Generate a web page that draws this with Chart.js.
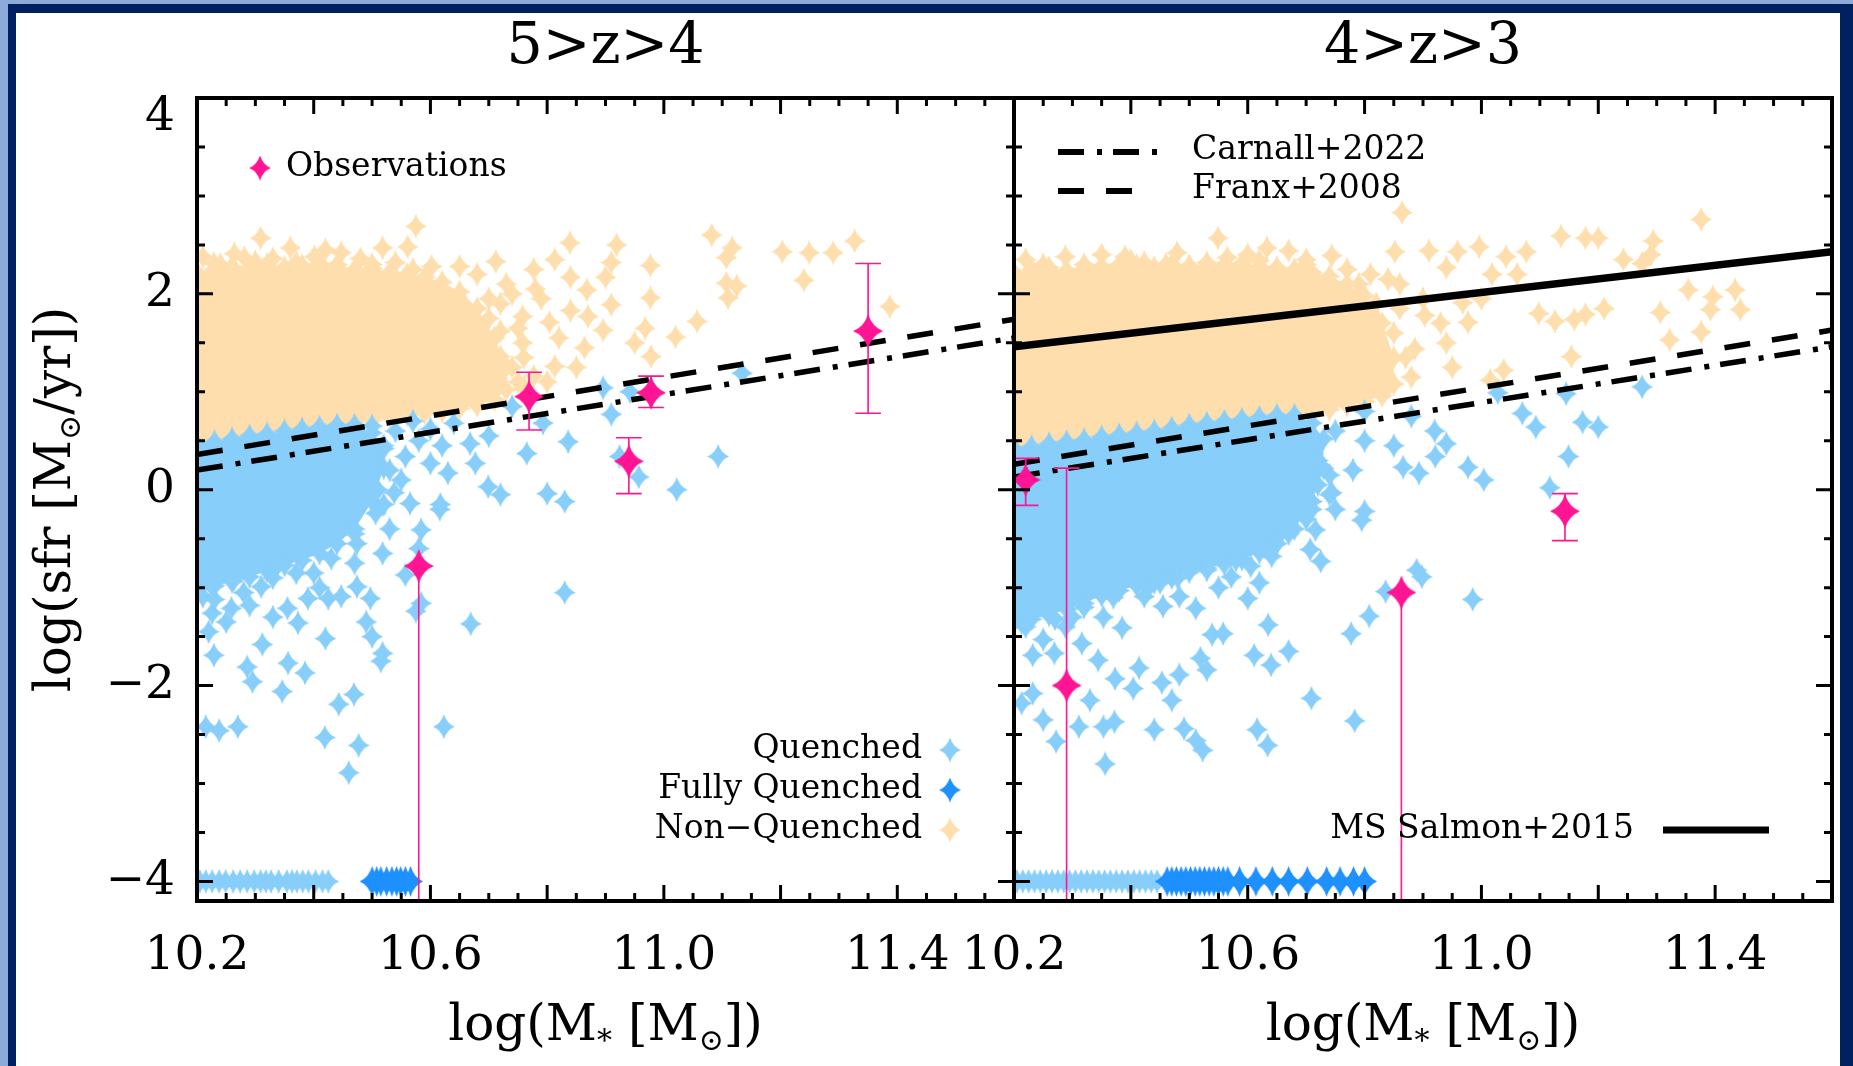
<!DOCTYPE html>
<html>
<head>
<meta charset="utf-8">
<title>Quenched galaxies 5>z>4 and 4>z>3</title>
<script src="https://cdn.jsdelivr.net/npm/chart.js@4.4.1/dist/chart.umd.min.js"></script>
<style>
  html, body { margin: 0; padding: 0; overflow: hidden; }
  body { width: 1853px; height: 1066px; position: relative; background: #8eaadb; }
  #navy { position: absolute; left: 8px; top: 4px; right: 0; bottom: 0; background: #002060; }
  #paper { position: absolute; left: 16px; top: 13px; right: 13px; bottom: 0; background: #fff; }
  canvas { position: absolute; left: 0; top: 0; }
</style>
</head>
<body>
<div id="navy"></div>
<div id="paper"></div>
<canvas id="left" width="1853" height="1066"></canvas>
<canvas id="right" width="1853" height="1066"></canvas>
<script>
// axes
const xMin = 10.2, xMax = 11.6;
const yMin = -4.2, yMax = 4.0;
const xTickLabels = [10.2, 10.6, 11.0, 11.4];
const yTickLabels = [-4, -2, 0, 2, 4];

// ---------- 5 > z > 4 ----------
// edge of the dense non-quenched cloud (upper and lower side)
const nqTopXL = [10.2, 10.23, 10.26, 10.29, 10.32, 10.35, 10.38, 10.41, 10.44, 10.47,
  10.5, 10.53, 10.56, 10.59, 10.62, 10.65, 10.68, 10.71, 10.73];
const nqTopYL = [2.22, 2.25, 2.28, 2.26, 2.30, 2.27, 2.29, 2.31, 2.27, 2.25,
  2.26, 2.22, 2.20, 2.17, 2.12, 2.02, 1.85, 1.55, 1.25];
const nqBotXL = [10.2, 10.23, 10.26, 10.29, 10.32, 10.35, 10.38, 10.41, 10.44, 10.47,
  10.5, 10.53, 10.56, 10.59, 10.62, 10.65, 10.68, 10.71, 10.73];
const nqBotYL = [0.42, 0.45, 0.48, 0.51, 0.54, 0.57, 0.60, 0.63, 0.66, 0.69,
  0.71, 0.74, 0.76, 0.78, 0.80, 0.83, 0.86, 0.92, 1.02];
// single non-quenched galaxies
const nqXL = [10.229, 10.309, 10.281, 10.264, 10.401, 10.447, 10.518, 10.561, 10.575, 10.602,
  10.712, 10.777, 10.813, 10.839, 10.919, 10.91, 10.977, 11.082, 11.117, 11.107,
  11.203, 11.249, 11.29, 11.327, 11.24, 11.107, 11.125, 11.11, 11.387, 10.977,
  10.91, 11.057, 11.02, 10.968, 10.95, 10.896, 10.978, 10.864, 10.813, 10.777,
  10.84, 10.868, 10.84, 10.758, 10.804, 10.758, 10.72, 10.87, 10.9, 10.62,
  10.66, 10.70, 10.73, 10.68, 10.65, 10.72, 10.74, 10.70, 10.76, 10.68,
  10.21, 10.33, 10.36, 10.42, 10.48, 10.54, 10.79, 10.63, 10.66, 10.70,
  10.24, 10.30, 10.37, 10.44, 10.50, 10.57, 10.72, 10.75, 10.76, 10.75,
  10.77, 10.78, 10.82, 10.85, 10.80, 10.74];
const nqYL = [2.31, 2.57, 2.37, 2.41, 2.38, 2.42, 2.47, 2.48, 2.69, 2.28,
  2.33, 2.25, 2.35, 2.52, 2.50, 2.32, 2.29, 2.60, 2.47, 2.37,
  2.43, 2.42, 2.42, 2.54, 2.14, 2.11, 2.08, 1.96, 1.87, 1.96,
  1.89, 1.72, 1.56, 1.65, 1.50, 1.63, 1.36, 1.45, 1.26, 1.16,
  2.17, 2.04, 1.83, 1.77, 1.71, 1.50, 1.36, 1.77, 2.17, 2.05,
  1.88, 1.95, 2.10, 2.20, 2.28, 1.62, 1.25, 1.12, 1.05, 0.98,
  2.38, 2.36, 2.47, 2.45, 2.36, 2.32, 1.95, 1.20, 1.45, 1.75,
  2.30, 2.33, 2.32, 2.30, 2.30, 2.25, 1.90, 1.65, 1.35, 1.10,
  0.98, 2.05, 1.55, 1.25, 1.10, 2.00];
// edge of the dense quenched cloud
const qTopXL = [10.2, 10.23, 10.26, 10.29, 10.32, 10.35, 10.38, 10.41, 10.44, 10.47, 10.5, 10.52];
const qTopYL = [0.46, 0.49, 0.52, 0.55, 0.57, 0.60, 0.62, 0.64, 0.66, 0.66, 0.58, 0.42];
const qBotXL = [10.2, 10.23, 10.26, 10.29, 10.32, 10.35, 10.38, 10.41, 10.44, 10.47, 10.5, 10.52];
const qBotYL = [-1.02, -0.98, -0.94, -0.89, -0.83, -0.77, -0.72, -0.65, -0.55, -0.40, -0.12, 0.22];
// single quenched galaxies
const qXL = [10.896, 10.942, 10.91, 10.836, 10.765, 10.793, 10.74, 11.093, 10.957, 11.022,
  10.924, 10.699, 10.72, 10.8, 10.83, 10.677, 10.668, 10.64, 10.6, 10.557,
  10.63, 10.616, 11.134, 10.70, 10.58, 10.584, 10.617, 10.83, 10.669, 10.584,
  10.575, 10.623, 10.50, 10.518, 10.515, 10.42, 10.312, 10.229, 10.286, 10.295,
  10.356, 10.385, 10.346, 10.469, 10.443, 10.215, 10.238, 10.27, 10.419, 10.477,
  10.46, 10.373, 10.355, 10.39, 10.425, 10.447, 10.497, 10.474, 10.518, 10.557,
  10.565, 10.538, 10.506, 10.226, 10.259, 10.29, 10.21, 10.337, 10.40, 10.447,
  10.474, 10.263, 10.226, 10.31, 10.22, 10.25, 10.33, 10.47, 10.53, 10.55,
  10.58, 10.49, 10.41, 10.52, 10.53, 10.51, 10.52, 10.50, 10.54, 10.57,
  10.60, 10.62, 10.23, 10.28, 10.33, 10.37, 10.43, 10.47];
const qYL = [1.04, 1.00, 0.77, 0.49, 0.37, 0.68, 0.85, 0.34, 0.13, 0.00,
  0.34, 0.03, -0.05, -0.04, -0.12, 0.27, 0.47, 0.68, 0.27, 0.34,
  0.17, -0.20, 1.19, 0.55, 0.50, -0.41, -0.15, -1.05, -1.37, -1.16,
  -1.24, -2.42, -1.50, -1.67, -1.75, -1.52, -1.58, -1.69, -1.81, -1.96,
  -1.77, -1.87, -2.06, -2.09, -2.19, -2.42, -2.46, -2.42, -2.53, -2.61,
  -2.89, -1.36, -1.21, -1.11, -1.11, -1.09, -1.11, -0.99, -0.65, -0.87,
  -0.14, -0.03, -0.24, -1.26, -1.21, -1.18, -1.09, -0.78, -0.85, -0.41,
  -0.55, -0.92, -0.99, -0.99, -1.45, -1.35, -1.30, -0.75, -0.40, 0.10,
  -0.60, -1.35, -1.00, 0.45, 0.20, 0.00, -0.15, 0.65, 0.60, 0.70,
  0.62, 0.45, -1.12, -1.05, -0.90, -0.85, -0.70, -0.45];
// galaxies with no star formation, shown at log(sfr) = -4
const qRowXL = [10.205, 10.215, 10.226, 10.238, 10.249, 10.262, 10.274, 10.286, 10.298, 10.309,
  10.318, 10.327, 10.34, 10.354, 10.363, 10.371, 10.381, 10.391, 10.403, 10.415, 10.425];
const fqRowXL = [10.50, 10.508, 10.515, 10.525, 10.534, 10.542, 10.549, 10.557, 10.566];
// observations with error bars
const obsXL = [10.769, 10.978, 10.94, 11.35, 10.58];
const obsYL = [0.95, 0.99, 0.29, 1.62, -0.78];
const obsHiL = [1.20, 1.16, 0.53, 2.31, -0.78];
const obsLoL = [0.61, 0.84, -0.04, 0.78, -4.2];
// quenching thresholds
const franxXL = [10.2, 11.6], franxYL = [0.36, 1.74];
const carnallXL = [10.2, 11.6], carnallYL = [0.20, 1.55];

// ---------- 4 > z > 3 ----------
const nqTopXR = [10.2, 10.23, 10.26, 10.29, 10.32, 10.35, 10.38, 10.41, 10.44, 10.47,
  10.5, 10.53, 10.56, 10.59, 10.62, 10.65, 10.68, 10.71, 10.74, 10.77, 10.8, 10.83, 10.85];
const nqTopYR = [2.22, 2.25, 2.27, 2.24, 2.26, 2.28, 2.30, 2.29, 2.27, 2.30,
  2.29, 2.28, 2.30, 2.31, 2.28, 2.27, 2.25, 2.22, 2.18, 2.10, 1.98, 1.70, 1.35];
const nqBotXR = [10.2, 10.23, 10.26, 10.29, 10.32, 10.35, 10.38, 10.41, 10.44, 10.47,
  10.5, 10.53, 10.56, 10.59, 10.62, 10.65, 10.68, 10.71, 10.74, 10.77, 10.8, 10.83, 10.85];
const nqBotYR = [0.37, 0.40, 0.43, 0.45, 0.48, 0.50, 0.53, 0.55, 0.57, 0.60,
  0.62, 0.64, 0.66, 0.68, 0.71, 0.73, 0.76, 0.79, 0.82, 0.86, 0.90, 0.96, 1.08];
const nqXR = [10.864, 11.376, 10.549, 10.479, 10.565, 10.423, 10.288, 10.633, 10.67, 10.744,
  10.852, 10.91, 10.959, 10.996, 11.042, 11.077, 11.136, 11.178, 11.2, 11.294,
  11.29, 11.243, 11.354, 11.396, 11.434, 11.443, 11.392, 11.306, 11.21, 11.178,
  11.159, 11.126, 11.098, 11.322, 11.154, 11.038, 11.015, 10.968, 10.977, 10.94,
  11.061, 11.018, 10.903, 10.886, 10.828, 10.94, 11.275, 10.22, 10.35, 10.7,
  10.82, 10.85, 10.86, 10.88, 10.9, 10.93, 10.84, 11.0, 10.95, 10.81,
  10.6, 10.39, 11.376, 10.82, 10.81, 10.83, 10.80, 10.79, 10.77, 10.25,
  10.32, 10.40, 10.46, 10.53, 10.62, 10.70, 10.86, 10.84, 10.87];
const nqYR = [2.83, 2.76, 2.57, 2.42, 2.37, 2.32, 2.38, 2.47, 2.44, 2.39,
  2.43, 2.44, 2.43, 2.48, 2.38, 2.43, 2.59, 2.57, 2.57, 2.54,
  2.40, 2.35, 2.04, 1.97, 2.04, 1.84, 1.84, 1.81, 1.85, 1.79,
  1.74, 1.72, 1.80, 1.53, 1.36, 1.22, 1.12, 1.91, 1.71, 1.50,
  2.20, 2.20, 1.78, 1.44, 1.27, 2.27, 2.31, 2.35, 2.40, 2.35,
  1.90, 1.60, 2.10, 1.15, 1.95, 1.70, 1.05, 1.95, 1.25, 2.20,
  2.40, 2.38, 1.61, 1.75, 1.45, 1.15, 0.98, 2.10, 2.25, 2.30,
  2.30, 2.34, 2.30, 2.32, 2.34, 2.30, 1.85, 2.15, 1.35];
const qTopXR = [10.2, 10.23, 10.26, 10.29, 10.32, 10.35, 10.38, 10.41, 10.44, 10.47,
  10.5, 10.53, 10.56, 10.59, 10.62, 10.65, 10.68, 10.71, 10.73];
const qTopYR = [0.42, 0.44, 0.47, 0.49, 0.51, 0.54, 0.56, 0.58, 0.60, 0.63,
  0.66, 0.68, 0.70, 0.72, 0.74, 0.76, 0.76, 0.68, 0.52];
const qBotXR = [10.2, 10.23, 10.26, 10.29, 10.32, 10.35, 10.38, 10.41, 10.44, 10.47,
  10.5, 10.53, 10.56, 10.59, 10.62, 10.65, 10.68, 10.71, 10.73];
const qBotYR = [-1.35, -1.32, -1.28, -1.22, -1.16, -1.08, -1.03, -0.98, -0.95, -0.90,
  -0.84, -0.80, -0.76, -0.71, -0.64, -0.55, -0.40, -0.12, 0.22];
const qXR = [11.028, 11.145, 11.275, 11.07, 11.093, 11.173, 11.2, 11.149, 11.117, 10.977,
  11.004, 10.94, 10.921, 10.893, 10.866, 10.744, 10.88, 10.92, 10.85, 10.80,
  10.75, 10.80, 10.78, 10.72, 10.75, 10.80, 10.795, 10.74, 10.716, 10.725,
  10.707, 10.889, 10.898, 10.985, 10.836, 10.808, 10.777, 10.67, 10.64, 10.611,
  10.635, 10.60, 10.572, 10.709, 10.783, 10.616, 10.634, 10.523, 10.511, 10.491,
  10.44, 10.356, 10.272, 10.25, 10.311, 10.353, 10.372, 10.213, 10.232, 10.33,
  10.404, 10.453, 10.47, 10.483, 10.53, 10.519, 10.373, 10.414, 10.344, 10.316,
  10.269, 10.232, 10.385, 10.455, 10.483, 10.511, 10.539, 10.558, 10.423, 10.353,
  10.213, 10.25, 10.288, 10.605, 10.641, 10.66, 10.698, 10.45, 10.3, 10.55,
  10.62, 10.71, 10.72, 10.70, 10.68, 10.22, 10.27, 10.32, 10.37, 10.43,
  10.48, 10.53, 10.58, 10.63, 10.67, 10.74, 10.71];
const qYR = [0.99, 0.98, 1.05, 0.78, 0.64, 0.69, 0.64, 0.34, 0.02, 0.23,
  0.10, 0.47, 0.34, 0.17, 0.23, -0.03, 0.75, 0.60, 0.45, 0.80,
  0.60, 0.50, 0.20, 0.30, -0.20, -0.22, -0.31, -0.05, -0.41, -0.73,
  -0.61, -0.82, -0.89, -1.12, -1.04, -1.29, -1.47, -1.65, -1.79, -1.69,
  -1.38, -1.11, -0.89, -2.13, -2.36, -2.45, -2.61, -2.66, -2.56, -2.44,
  -2.45, -2.80, -2.57, -2.35, -2.42, -2.42, -2.37, -2.18, -2.08, -2.15,
  -2.03, -1.97, -2.15, -1.89, -1.84, -1.72, -1.93, -1.82, -1.74, -1.57,
  -1.67, -1.69, -1.41, -1.19, -1.09, -1.21, -1.48, -1.47, -1.09, -1.30,
  -1.36, -1.53, -1.40, -0.78, -0.68, -0.41, -0.11, -0.95, -1.30, -1.00,
  -0.95, 0.50, 0.05, -0.30, 0.70, -1.40, -1.32, -1.20, -1.10, -1.00,
  -0.90, -0.82, -0.72, -0.58, -0.45, 0.15, -0.20];
const qRowXR = [10.205, 10.215, 10.225, 10.235, 10.245, 10.255, 10.265, 10.275, 10.285, 10.295,
  10.305, 10.315, 10.325, 10.335, 10.345, 10.355, 10.365, 10.375, 10.385, 10.395,
  10.405, 10.415, 10.425, 10.435, 10.445];
const fqRowXR = [10.462, 10.47, 10.478, 10.486, 10.494, 10.502, 10.51, 10.518, 10.526, 10.534,
  10.542, 10.55, 10.558, 10.566, 10.586, 10.614, 10.642, 10.67, 10.702, 10.735,
  10.758, 10.781, 10.80];
const obsXR = [10.22, 10.29, 10.863, 11.143];
const obsYR = [0.10, -2.00, -1.05, -0.22];
const obsHiR = [0.32, 0.22, -1.05, -0.04];
const obsLoR = [-0.16, -4.2, -4.2, -0.52];
const franxXR = [10.2, 11.6], franxYR = [0.26, 1.63];
const carnallXR = [10.2, 11.6], carnallYR = [0.13, 1.46];
const salmonXR = [10.2, 11.6], salmonYR = [1.46, 2.43];

// ---------- styling ----------
const COL = {nq: '#ffdead', q: '#87cefa', fq: '#1e90ff', obs: '#ff1493'};
const FONT = 'DejaVu Serif';
const DASH = [26, 22];
const DASHDOT = [26, 13, 5, 11];
const capW = 0.022;

// four-pointed star used as point symbol
function star(w, h, color) {
  const c = document.createElement('canvas');
  c.width = w; c.height = h;
  const g = c.getContext('2d');
  const cx = w / 2, cy = h / 2, k = 0.13;
  g.fillStyle = color;
  g.beginPath();
  g.moveTo(cx, 0);
  g.quadraticCurveTo(cx + w * k, cy - h * k, w, cy);
  g.quadraticCurveTo(cx + w * k, cy + h * k, cx, h);
  g.quadraticCurveTo(cx - w * k, cy + h * k, 0, cy);
  g.quadraticCurveTo(cx - w * k, cy - h * k, cx, 0);
  g.fill();
  return c;
}
const starNQ = star(22, 25, COL.nq);
const starQ = star(22, 25, COL.q);
const starFQ = star(25, 31, COL.fq);
const starObs = star(30, 34, COL.obs);
const keyObs = star(22, 25, COL.obs);
const keyQ = star(22, 25, COL.q);
const keyFQ = star(22, 25, COL.fq);
const keyNQ = star(22, 25, COL.nq);

function xy(xs, ys) { return xs.map((x, i) => ({x: x, y: ys[i]})); }
function row(xs, y) { return xs.map(x => ({x: x, y: y})); }

function errorBars(xs, ys, hi, lo) {
  const out = [];
  xs.forEach((x, i) => {
    out.push({x: x, y: lo[i]}, {x: x, y: hi[i]}, {x: x, y: null});
    if (hi[i] > ys[i]) out.push({x: x - capW, y: hi[i]}, {x: x + capW, y: hi[i]}, {x: x, y: null});
    if (lo[i] > yMin) out.push({x: x - capW, y: lo[i]}, {x: x + capW, y: lo[i]}, {x: x, y: null});
  });
  return out;
}

function lineSet(xs, ys, width, dash, order) {
  return {data: xy(xs, ys), showLine: true, borderColor: '#000', borderWidth: width,
    borderDash: dash, borderCapStyle: 'butt', pointRadius: 0, fill: false, order: order};
}

// dense part of a cloud: area between its two edges, edges drawn as stars
function cloudSets(topX, topY, botX, botY, color, symbol, order) {
  return [
    {data: xy(topX, topY), showLine: true, fill: '+1', backgroundColor: color,
      borderWidth: 0, borderColor: 'rgba(0,0,0,0)', pointStyle: symbol, pointRadius: 10, order: order},
    {data: xy(botX, botY), showLine: true, fill: false,
      borderWidth: 0, borderColor: 'rgba(0,0,0,0)', pointStyle: symbol, pointRadius: 10, order: order - 1}
  ];
}

// box and inward tick marks on all four sides
const framePlugin = {
  id: 'frame',
  afterDatasetsDraw(chart) {
    const {ctx, chartArea: a} = chart;
    const sx = chart.scales.x, sy = chart.scales.y;
    ctx.save();
    ctx.strokeStyle = '#000';
    ctx.lineWidth = 3;
    ctx.beginPath();
    for (let i = 0; i <= 28; i++) {
      const px = sx.getPixelForValue(xMin + i * 0.05);
      const len = i % 4 === 0 ? 16 : 8;
      ctx.moveTo(px, a.bottom); ctx.lineTo(px, a.bottom - len);
      ctx.moveTo(px, a.top); ctx.lineTo(px, a.top + len);
    }
    for (let i = 0; i <= 16; i++) {
      const py = sy.getPixelForValue(-4 + i * 0.5);
      const len = i % 4 === 0 ? 16 : 8;
      ctx.moveTo(a.left, py); ctx.lineTo(a.left + len, py);
      ctx.moveTo(a.right, py); ctx.lineTo(a.right - len, py);
    }
    ctx.stroke();
    ctx.lineWidth = 4;
    ctx.strokeRect(a.left, a.top, a.right - a.left, a.bottom - a.top);
    ctx.restore();
  }
};

// text with subscripts, parts = [[text, isSub], ...]
function richText(ctx, parts, x, y, size) {
  const fonts = parts.map(p => (p[1] ? Math.round(size * 0.6) : size) + 'px "' + FONT + '"');
  const widths = parts.map((p, i) => { ctx.font = fonts[i]; return ctx.measureText(p[0]).width; });
  let cx = x - widths.reduce((s, w) => s + w, 0) / 2;
  ctx.textAlign = 'left';
  ctx.textBaseline = 'alphabetic';
  parts.forEach((p, i) => {
    ctx.font = fonts[i];
    ctx.fillText(p[0], cx, y + (p[1] ? size * 0.2 : 0));
    cx += widths[i];
  });
}
const xTitle = [['log(M', false], ['*', true], [' [M', false], ['\u2299', true], ['])', false]];
const yTitle = [['log(sfr [M', false], ['\u2299', true], ['/yr])', false]];

function key(ctx, img, x, y) { ctx.drawImage(img, x - img.width / 2, y - img.height / 2); }
function label(ctx, text, x, y, align) {
  ctx.font = '33px "' + FONT + '"';
  ctx.fillStyle = '#000';
  ctx.textAlign = align;
  ctx.textBaseline = 'middle';
  ctx.fillText(text, x, y);
}

const leftNotes = {
  id: 'leftNotes',
  afterDraw(chart) {
    const {ctx, chartArea: a} = chart;
    ctx.save();
    ctx.fillStyle = '#000';
    richText(ctx, xTitle, (a.left + a.right) / 2, 1040, 50);
    ctx.save();
    ctx.translate(70, (a.top + a.bottom) / 2);
    ctx.rotate(-Math.PI / 2);
    richText(ctx, yTitle, 0, 0, 50);
    ctx.restore();
    key(ctx, keyObs, a.left + 63, a.top + 70);
    label(ctx, 'Observations', a.left + 89, a.top + 69, 'left');
    label(ctx, 'Quenched', a.left + 725, a.top + 651, 'right');
    label(ctx, 'Fully Quenched', a.left + 725, a.top + 691, 'right');
    label(ctx, 'Non\u2212Quenched', a.left + 725, a.top + 731, 'right');
    key(ctx, keyQ, a.left + 753, a.top + 652);
    key(ctx, keyFQ, a.left + 753, a.top + 692);
    key(ctx, keyNQ, a.left + 753, a.top + 732);
    ctx.restore();
  }
};

const rightNotes = {
  id: 'rightNotes',
  afterDraw(chart) {
    const {ctx, chartArea: a} = chart;
    ctx.save();
    ctx.fillStyle = '#000';
    richText(ctx, xTitle, (a.left + a.right) / 2, 1040, 50);
    ctx.strokeStyle = '#000';
    ctx.lineCap = 'butt';
    ctx.lineWidth = 6;
    ctx.setLineDash(DASHDOT);
    ctx.beginPath(); ctx.moveTo(a.left + 44, a.top + 54); ctx.lineTo(a.left + 151, a.top + 54); ctx.stroke();
    ctx.setLineDash(DASH);
    ctx.beginPath(); ctx.moveTo(a.left + 44, a.top + 93); ctx.lineTo(a.left + 126, a.top + 93); ctx.stroke();
    ctx.setLineDash([]);
    ctx.lineWidth = 7;
    ctx.beginPath(); ctx.moveTo(a.left + 649, a.top + 732); ctx.lineTo(a.left + 755, a.top + 732); ctx.stroke();
    label(ctx, 'Carnall+2022', a.left + 178, a.top + 52, 'left');
    label(ctx, 'Franx+2008', a.left + 178, a.top + 91, 'left');
    label(ctx, 'MS Salmon+2015', a.left + 620, a.top + 731, 'right');
    ctx.restore();
  }
};

function options(title, padding, showY) {
  const tickFont = {family: FONT, size: 47, lineHeight: 0.85};
  return {
    responsive: false,
    animation: false,
    events: [],
    devicePixelRatio: 1,
    layout: {padding: padding},
    plugins: {
      legend: {display: false},
      tooltip: {enabled: false},
      title: {display: true, text: title, color: '#000', fullSize: false,
        font: {family: FONT, size: 57, weight: 'normal', lineHeight: 1},
        padding: {top: 20, bottom: 21}}
    },
    scales: {
      x: {
        type: 'linear', min: xMin, max: xMax,
        afterBuildTicks: s => { s.ticks = xTickLabels.map(v => ({value: v})); },
        afterFit: s => { s.height = 165; },
        grid: {display: false, drawTicks: false},
        border: {display: false},
        ticks: {font: {family: FONT, size: 47}, color: '#000', padding: 28,
          maxRotation: 0, minRotation: 0, autoSkip: false,
          callback: v => v.toFixed(1)}
      },
      y: {
        type: 'linear', min: yMin, max: yMax, display: showY,
        afterBuildTicks: s => { s.ticks = yTickLabels.map(v => ({value: v})); },
        afterFit: s => { s.width = showY ? 197 : 0; },
        grid: {display: false, drawTicks: false},
        border: {display: false},
        ticks: {font: tickFont, color: '#000', padding: 22, autoSkip: false,
          callback: v => v === 4 ? ['', '4'] : (v < 0 ? '\u2212' + Math.abs(v) : String(v))}
      }
    }
  };
}

const leftSets = [].concat(
  cloudSets(nqTopXL, nqTopYL, nqBotXL, nqBotYL, COL.nq, starNQ, 100),
  [{data: xy(nqXL, nqYL), pointStyle: starNQ, pointRadius: 10, order: 90}],
  cloudSets(qTopXL, qTopYL, qBotXL, qBotYL, COL.q, starQ, 80),
  [
    {data: xy(qXL, qYL), pointStyle: starQ, pointRadius: 10, order: 70},
    {data: row(qRowXL, -4), pointStyle: starQ, pointRadius: 10, order: 69},
    {data: row(fqRowXL, -4), pointStyle: starFQ, pointRadius: 10, order: 60},
    lineSet(franxXL, franxYL, 5.5, DASH, 50),
    lineSet(carnallXL, carnallYL, 5.5, DASHDOT, 49),
    {data: errorBars(obsXL, obsYL, obsHiL, obsLoL), showLine: true, borderColor: COL.obs,
      borderWidth: 1.6, pointRadius: 0, fill: false, order: 20},
    {data: xy(obsXL, obsYL), pointStyle: starObs, pointRadius: 12, order: 10}
  ]
);

const rightSets = [].concat(
  cloudSets(nqTopXR, nqTopYR, nqBotXR, nqBotYR, COL.nq, starNQ, 100),
  [{data: xy(nqXR, nqYR), pointStyle: starNQ, pointRadius: 10, order: 90}],
  cloudSets(qTopXR, qTopYR, qBotXR, qBotYR, COL.q, starQ, 80),
  [
    {data: xy(qXR, qYR), pointStyle: starQ, pointRadius: 10, order: 70},
    {data: row(qRowXR, -4), pointStyle: starQ, pointRadius: 10, order: 69},
    {data: row(fqRowXR, -4), pointStyle: starFQ, pointRadius: 10, order: 60},
    lineSet(franxXR, franxYR, 5.5, DASH, 50),
    lineSet(carnallXR, carnallYR, 5.5, DASHDOT, 49),
    lineSet(salmonXR, salmonYR, 7.5, [], 48),
    {data: errorBars(obsXR, obsYR, obsHiR, obsLoR), showLine: true, borderColor: COL.obs,
      borderWidth: 1.6, pointRadius: 0, fill: false, order: 20},
    {data: xy(obsXR, obsYR), pointStyle: starObs, pointRadius: 12, order: 10}
  ]
);

new Chart(document.getElementById('left'), {
  type: 'scatter',
  data: {datasets: leftSets},
  options: options('5>z>4', {left: 0, right: 839, top: 0, bottom: 0}, true),
  plugins: [framePlugin, leftNotes]
});

new Chart(document.getElementById('right'), {
  type: 'scatter',
  data: {datasets: rightSets},
  options: options('4>z>3', {left: 1014, right: 21, top: 0, bottom: 0}, false),
  plugins: [framePlugin, rightNotes]
});
</script>
</body>
</html>
